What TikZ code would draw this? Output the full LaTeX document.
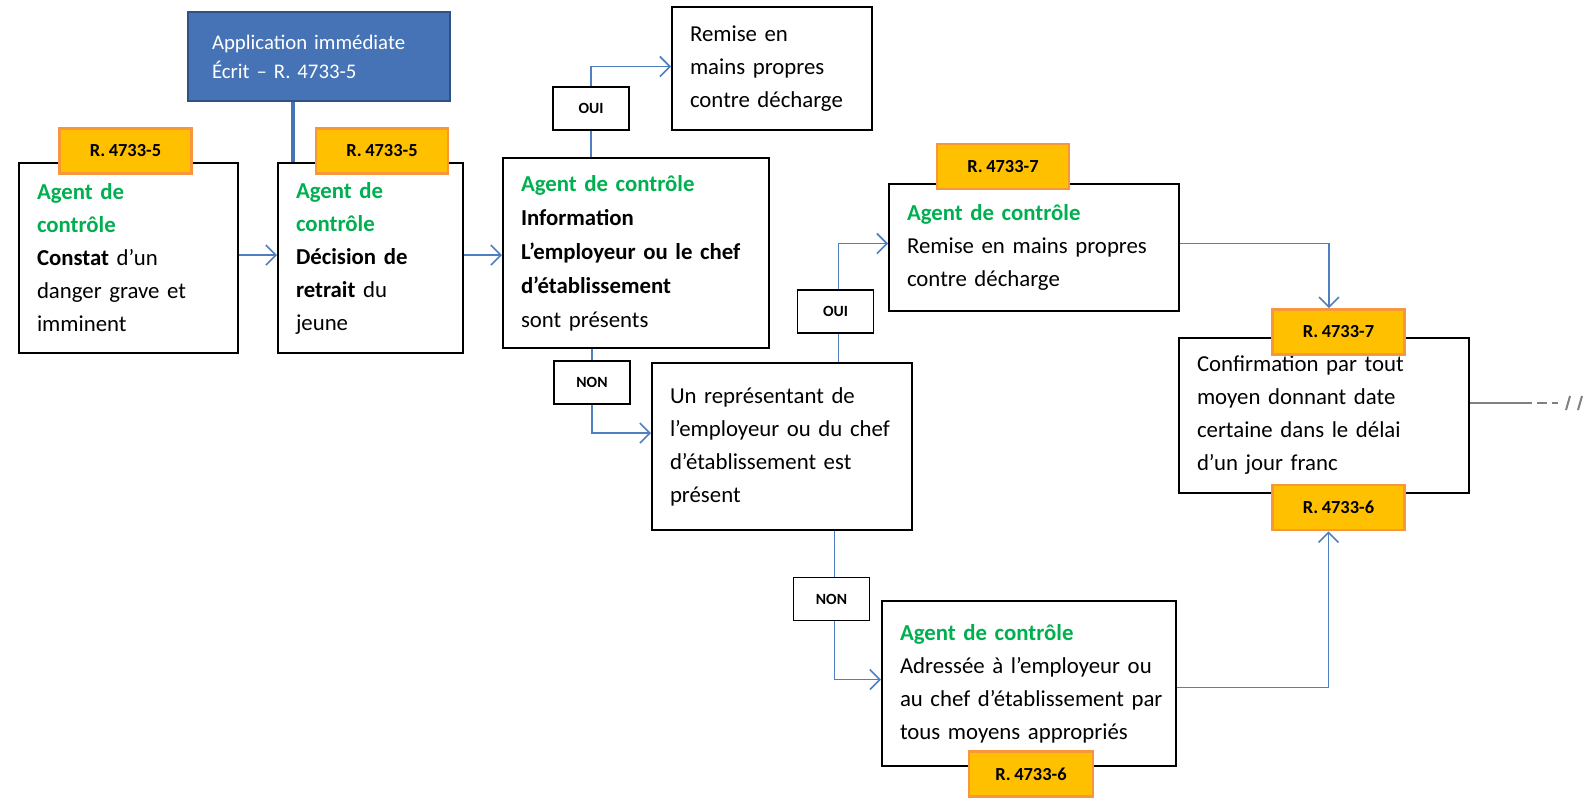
\documentclass[tikz,border=0pt]{standalone}
\usepackage{fontspec}
\setmainfont{Carlito}[WordSpace={0.85,0,0}]
\usepackage{xcolor}
\usetikzlibrary{positioning,arrows.meta}
\definecolor{agentgreen}{HTML}{00B050}
\definecolor{linkblue}{HTML}{4F7FC0}
\definecolor{applifill}{HTML}{4673B5}
\definecolor{appliedge}{HTML}{2E5283}
\definecolor{tagfill}{HTML}{FFC000}
\definecolor{tagedge}{HTML}{F7963C}
\newcommand{\agent}[1]{\textcolor{agentgreen}{\textbf{#1}}}
\tikzset{%
box/.style={draw=black,line width=1pt,fill=white,align=left,inner xsep=9pt,inner ysep=0pt,font=\fontsize{11.4}{16.5}\selectfont},
appli/.style={draw=appliedge,line width=1pt,fill=applifill,text=white,align=left,inner xsep=12pt,inner ysep=0pt,font=\fontsize{10.4}{14.5}\selectfont},
reftag/.style={draw=tagedge,line width=1.3pt,fill=tagfill,font=\bfseries\fontsize{9.2}{10}\selectfont,inner sep=0pt,minimum width=66pt,minimum height=22.5pt},
answer/.style={draw=black,line width=0.9pt,fill=white,font=\bfseries\fontsize{7.8}{9}\selectfont,inner sep=0pt,minimum width=38pt,minimum height=21.5pt},
link/.style={draw=linkblue,line width=0.8pt},
linkarrow/.style={link,-{Straight Barb[length=5pt,width=10pt,line width=0.8pt]}},
cut/.style={draw=gray,line width=0.8pt}
}

\begin{document}
\begin{tikzpicture}[x=0.5pt,y=-0.5pt]
  \useasboundingbox (0,0) rectangle (1590,799);

  \node[appli,text width=107pt,minimum height=44.5pt] (appl) at (319,56.5)
    {Application immédiate\\Écrit – R. 4733-5};

  \node[box,text width=91.5pt,minimum height=95pt] (constat) at (128.5,258)
    {\agent{Agent de}\\\agent{contrôle}\\\textbf{Constat} d’un\\danger~grave~et\\imminent};
  \node[box,text width=74.5pt,minimum height=95pt] (retrait) at (370.5,258)
    {\agent{Agent de}\\\agent{contrôle}\\\textbf{Décision~de}\\\textbf{retrait} du\\jeune};
  \node[box,text width=115pt,minimum height=95pt,font=\fontsize{11.4}{17}\selectfont] (info) at (636,253)
    {\agent{Agent de contrôle}\\\textbf{Information}\\\textbf{L’employeur~ou~le~chef}\\\textbf{d’établissement}\\sont présents};
  \node[box,text width=82pt,minimum height=61.5pt] (remisea) at (772,68.5)
    {Remise en\\mains propres\\contre~décharge};
  \node[box,text width=112pt,minimum height=83.5pt] (repres) at (782,446.5)
    {Un représentant~de\\l’employeur~ou~du~chef\\d’établissement~est\\présent\\[4pt]};
  \node[box,text width=127pt,minimum height=63.5pt] (remiseb) at (1034,247.5)
    {\agent{Agent de contrôle}\\Remise~en~mains~propres\\contre décharge};
  \node[box,text width=129pt,minimum height=82.5pt] (adresse) at (1029,683.5)
    {\agent{Agent de contrôle}\\Adressée~à~l’employeur~ou\\au~chef~d’établissement~par\\tous moyens appropriés\\[2pt]};
  \node[box,text width=127pt,minimum height=77.5pt] (confirm) at (1324,415.5)
    {Confirmation~par~tout\\moyen donnant~date\\certaine~dans~le~délai\\d’un jour franc};

  \node[reftag] (tagconstat) at (125.5,151) {R. 4733-5};
  \node[reftag] (tagretrait) at (382,151) {R. 4733-5};
  \node[reftag] (tagremise) at (1003,166.5) {R. 4733-7};
  \node[reftag] (tagconfa) at (1338.5,332) {R. 4733-7};
  \node[reftag] (tagconfb) at (1338.5,507.5) {R. 4733-6};
  \node[reftag,minimum width=62pt] (tagadresse) at (1031,774) {R. 4733-6};

  \node[answer] (ouia) at (591,108.5) {OUI};
  \node[answer] (nona) at (592,382.5) {NON};
  \node[answer] (ouib) at (835.5,311.5) {OUI};
  \node[answer] (nonb) at (831.5,599) {NON};

  \draw[link,draw=applifill,line width=1.6pt] ([xshift=8pt]retrait.north west) -- ([xshift=8pt]retrait.north west |- appl.south);
  \draw[linkarrow] ([yshift=1.5pt]constat.east) -- ([yshift=1.5pt]constat.east -| retrait.west);
  \draw[linkarrow] ([yshift=1.5pt]retrait.east) -- ([yshift=1.5pt]retrait.east -| info.west);
  \draw[link] (ouia.south |- info.north) -- (ouia.south);
  \draw[linkarrow] (ouia.north) |- ([yshift=1pt]remisea.west);
  \draw[link] (nona.north |- info.south) -- (nona.north);
  \draw[linkarrow] (nona.south) |- ([yshift=6.75pt]repres.west);
  \draw[link] ([xshift=1.5pt]ouib.south |- repres.north) -- ([xshift=1.5pt]ouib.south);
  \draw[linkarrow] ([xshift=1.5pt]ouib.north) |- ([yshift=2pt]remiseb.west);
  \draw[link] ([xshift=1.5pt]nonb.north |- repres.south) -- ([xshift=1.5pt]nonb.north);
  \draw[linkarrow] ([xshift=1.5pt]nonb.south) |- ([yshift=2pt]adresse.west);
  \draw[linkarrow] ([yshift=2pt]remiseb.east) -| ([xshift=-4.75pt]tagconfa.north);
  \draw[linkarrow] ([yshift=-2pt]adresse.east) -| ([xshift=-5pt]tagconfb.south);

  \coordinate (cuta) at (1522,403);
  \coordinate (cutb) at (1558,403);
  \draw[cut] (confirm.east |- cuta) -- (cuta);
  \draw[cut,dashed,dash pattern=on 5pt off 2.5pt] (cuta) -- (cutb);
  \draw[cut,line width=1pt] (1566,410) -- (1570,396);
  \draw[cut,line width=1pt] (1578,410) -- (1582,396);
\end{tikzpicture}
\end{document}
